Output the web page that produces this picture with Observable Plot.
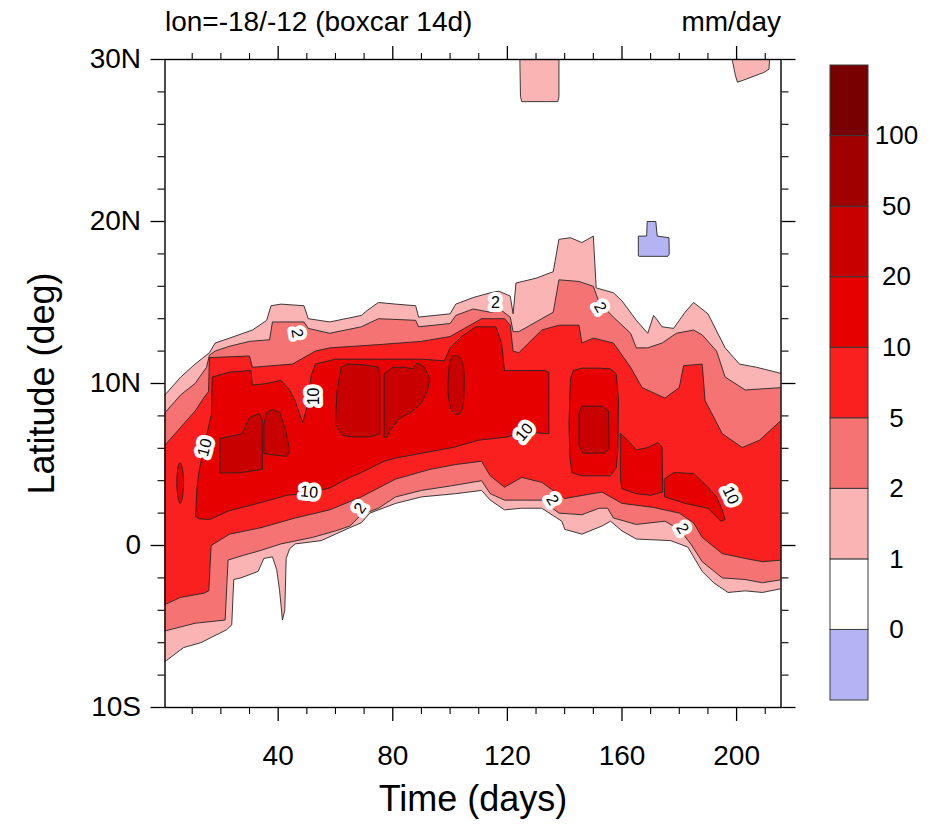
<!DOCTYPE html>
<html><head><meta charset="utf-8">
<script src="https://cdn.jsdelivr.net/npm/d3@7"></script>
<script src="https://cdn.jsdelivr.net/npm/@observablehq/plot@0.6"></script>
<style>
body{margin:0;background:#fff;}
#wrap{position:relative;width:934px;height:826px;overflow:hidden;background:#fff;}
#main,#bar{position:absolute;top:0;}
#main{left:0;} #bar{left:800px;}
</style></head><body><div id="wrap"><div id="main"></div><div id="bar"></div></div>
<script>
// ---- axis ticks ----
const timeTicks = [40, 80, 120, 160, 200];
const timeMinor = [10,20,30,50,60,70,90,100,110,130,140,150,170,180,190,210];
const latTicks = [-10, 0, 10, 20, 30];
const latTickLabels = ["10S", "0", "10N", "20N", "30N"];
const latMinor = [-8,-6,-4,-2,2,4,6,8,12,14,16,18,22,24,26,28];

// ---- colour levels (mm/day) ----
const levelLabels = ["0","1","2","5","10","20","50","100"];
const levelColors = ["#b4b4f5","#ffffff","#fab4b4","#f57373","#fa2020","#e60000","#c80000","#a00000","#780000"];

// ---- contour boundaries: [day, latitude] ----
const ge1Top = [[0,9.2],[1,9.4],[6,10.4],[11,11.2],[16,11.9],[18,12.5],[23,12.8],[31,13.3],[36,13.9],[37.5,14.8],[41,14.9],[49,14.8],[50.5,14.0],[58,13.8],[69,14.2],[71,14.5],[75,15.0],[81,14.9],[88,14.8],[89,14.1],[100,14.3],[102,14.9],[108,15.3],[114,15.6],[117,15.7],[121,15.4],[122,14.3],[123,16.2],[130,16.5],[136,16.9],[138,18.9],[142,19.0],[146,18.7],[148,18.9],[150,19.1],[151,15.9],[157,15.6],[160,15.1],[165,13.9],[169,13.1],[171,14.2],[172,14.0],[174,13.5],[178,13.4],[182,14.4],[185,15.0],[190,14.3],[196,12.2],[201,11.2],[207,11.0],[216,10.6]];
const ge1Bot = [[0,-7.2],[1,-7.1],[7,-6.3],[13,-6.0],[22,-5.2],[23.8,-4.9],[24.5,-2.1],[27,-2.0],[33,-1.6],[35,-0.8],[38,-0.7],[39.5,-1.5],[40.5,-2.8],[41.5,-4.6],[42.3,-4.0],[42.8,-0.8],[44,-0.2],[46,0.1],[55,0.3],[60,0.7],[65,1.1],[69,1.4],[72,2.0],[81,2.6],[90,3.0],[102,3.2],[111,3.4],[114,2.8],[119,2.2],[125,2.3],[132,2.3],[139,1.5],[140,1.0],[146,0.7],[153,1.2],[156,1.5],[160,0.9],[165,0.4],[177,0.3],[183,-0.1],[188,-1.6],[192,-2.3],[197,-2.9],[203,-2.8],[209,-2.9],[216,-2.65]];
const ge1PatchA = [[124.5,30],[138,30],[138,27.7],[137.6,27.4],[125,27.4],[124.6,27.7]];
const ge1PatchB = [[198.6,30],[211.5,30],[211.3,29.4],[209.5,29.2],[208,29.1],[205,28.9],[202,28.7],[200.3,28.6],[199.6,29.0]];

const ge2Top = [[0,8.1],[1,8.3],[6,9.3],[11,10.0],[15,11.0],[16,11.75],[18,12.0],[23,12.3],[30,12.6],[37,12.7],[38,13.8],[49,13.8],[50.5,13.4],[58,13.1],[69,13.5],[75,14.0],[88,13.9],[89,13.5],[100,13.7],[102,14.2],[108,14.6],[114,14.4],[118,14.5],[121,14.1],[122,13.2],[124,13.2],[130,13.8],[136,14.4],[138,16.4],[145,16.3],[150,16.0],[152,15.0],[157,14.1],[163,13.1],[165,12.2],[169,12.2],[174,12.5],[179,13.1],[185,13.3],[188,13.0],[193,12.0],[196,10.4],[203,9.6],[216,9.75]];
const ge2Bot = [[0,-5.3],[1,-5.25],[11,-4.8],[21.5,-4.6],[22.5,-0.9],[28,-0.6],[34,-0.3],[41,0.1],[52,0.5],[60,0.9],[65,1.2],[69,1.9],[75,2.3],[81,3.0],[90,3.4],[101,3.7],[111,4.0],[114,3.2],[119,2.8],[132,2.8],[138,2.0],[146,1.9],[152,2.3],[155,2.3],[157,1.7],[165,1.3],[175,1.5],[180,1.0],[184,0.1],[188,-1.0],[195,-2.0],[203,-2.1],[209,-2.3],[216,-2.1]];

const ge5Top = [[0,6.2],[1,6.3],[6,7.3],[11,8.3],[14,9.1],[15.7,9.5],[16,11.6],[30,11.7],[31,11.0],[45,11.2],[53,12.0],[58,12.2],[75,12.4],[90,12.6],[100,12.9],[105,13.4],[111,14.0],[119,14.0],[121,13.6],[122,12.0],[124,11.9],[132,13.3],[138,13.6],[145,13.6],[146,12.5],[150,12.8],[157,12.5],[163,11.0],[167,9.75],[175,9.1],[180,9.75],[181.5,11.1],[188,11.2],[189,8.95],[195,6.9],[202,6.05],[208,6.5],[216,7.8]];
const ge5Bot = [[0,-3.7],[1,-3.6],[6,-3.2],[14,-2.95],[15.8,-2.8],[16.6,0.0],[23,0.7],[34,1.1],[46,1.7],[58,2.2],[69,3.0],[81,4.1],[93,4.7],[102,5.0],[111,5.2],[114,4.3],[119,3.6],[125,4.2],[132,3.9],[140,2.9],[153,3.3],[160,2.6],[171,2.35],[180,2.0],[185,1.4],[188,0.5],[195,-0.5],[203,-0.8],[209,-1.0],[216,-0.9]];

const ge10Top = [[11.2,1.8],[11.6,3.5],[12.4,4.6],[14.5,6.4],[16.7,8.1],[17,10.4],[23,10.7],[30.5,10.8],[31,9.9],[36,10.0],[41,10.2],[44,9.6],[46,8.9],[48.5,7.6],[50,8.5],[51.5,10.5],[53,11.2],[60,11.5],[75,11.5],[90,11.5],[98,11.4],[100,12.2],[104,12.9],[109,13.5],[116,13.5],[118,12.5],[119,10.8],[126,10.8],[133,10.8],[134.5,10.7]];
const ge10Bot = [[11.2,1.8],[12.4,1.65],[16,1.6],[23,2.15],[34,2.65],[43,3.1],[49,3.2],[58,3.55],[65,4.2],[69,4.5],[77,5.2],[81,5.4],[101,6.05],[110,6.5],[120,6.7],[126,7.0],[134.5,6.9]];
const ge10Small = [[4.6,3.9],[5.0,4.8],[5.8,5.1],[6.6,4.7],[7.0,3.9],[6.6,3.0],[5.8,2.6],[5.0,3.0]];
const ge10Oval = [[141.5,7.5],[142,10.3],[143,10.8],[146,10.95],[152,10.95],[156,10.9],[158,10.6],[158.8,9.0],[158.6,6.0],[158,4.8],[156,4.3],[146,4.3],[142.5,4.5],[141.8,5.5]];
const ge10Block = [[159.5,6.9],[162,6.5],[165,5.9],[169,6.05],[172.5,6.35],[174,6.1],[174.2,3.3],[170,3.1],[165,3.2],[160,3.5],[159.5,4.0]];
const ge10Right = [[174.8,4.1],[178,4.5],[185,4.45],[190,3.6],[193,3.0],[195,2.2],[196,1.6],[194.5,1.5],[190,2.3],[182,2.6],[175,3.0]];

const ge20A = [[19.7,4.5],[19.7,6.6],[27.4,6.9],[30,7.9],[33.3,8.15],[34.4,7.8],[34.5,4.7],[27,4.5]];
const ge20B = [[35,5.7],[35,7.5],[36,8.2],[38,8.4],[40.5,8.2],[42.5,7.2],[44,5.9],[43,5.5],[38,5.6]];
const ge20C = [[60,7.5],[60.5,9.5],[62,11.0],[64,11.2],[70,11.15],[75,11.0],[75.5,10.5],[75.5,6.9],[72,6.7],[66,6.7],[62.5,6.8],[61,7.2]];
const ge20D = [[77,6.7],[77,10.6],[80,11.0],[84,11.0],[87,10.9],[88.5,11.3],[91,11.0],[93,10.3],[92,9.5],[90,8.8],[87,8.3],[82,7.8],[79,7.1],[78,6.7]];
const ge20E = [[99.3,10.0],[99.8,11.2],[101,11.7],[103.5,11.6],[104.8,10.8],[104.8,9.2],[104,8.3],[102,8.1],[100.2,8.5],[99.4,9.3]];
const ge20F = [[145,6.2],[145,8.2],[146,8.6],[153,8.6],[155.3,8.3],[155.5,6.0],[154,5.7],[146.5,5.7]];

const negPatch = [[165.7,17.9],[165.7,19.1],[168.6,19.1],[168.8,20.0],[171.8,20.0],[172.3,19.1],[176.4,19.0],[176.5,18.0],[176,17.85],[166.2,17.85]];

// ---- contour labels ----
const labDay = [46.6, 115.8, 152.4, 68.6, 135.7, 181.1, 52.5, 14.4, 50.8, 125.9, 197.9];
const labLat = [13.1, 15.0, 14.7, 2.3, 2.8, 1.05, 9.2, 6.05, 3.3, 7.0, 3.1];
const labText = ["2","2","2","2","2","2","10","10","10","10","10"];
const labAngle = [80, 0, 60, -55, 60, 60, -90, -75, 5, -50, 65];

// ---- build ----
const band = (top, bot) => [...top, ...bot.slice().reverse()];
const regions = [
  {ring: band(ge1Top, ge1Bot), color: levelColors[2]},
  {ring: ge1PatchA, color: levelColors[2]},
  {ring: ge1PatchB, color: levelColors[2]},
  {ring: band(ge2Top, ge2Bot), color: levelColors[3]},
  {ring: band(ge5Top, ge5Bot), color: levelColors[4]},
  {ring: band(ge10Top, ge10Bot), color: levelColors[5]},
  {ring: ge10Small, color: levelColors[5], curve: "cardinal-closed"},
  {ring: ge10Oval, color: levelColors[5]},
  {ring: ge10Block, color: levelColors[5]},
  {ring: ge10Right, color: levelColors[5]},
  {ring: ge20A, color: levelColors[6]},
  {ring: ge20B, color: levelColors[6]},
  {ring: ge20C, color: levelColors[6]},
  {ring: ge20D, color: levelColors[6]},
  {ring: ge20E, color: levelColors[6], curve: "cardinal-closed"},
  {ring: ge20F, color: levelColors[6]},
  {ring: negPatch, color: levelColors[0]}
];

const font = "'Liberation Sans', Arial, Helvetica, sans-serif";
const fmtLat = v => latTickLabels[latTicks.indexOf(v)];
const blank = () => "";

const main = Plot.plot({
  width: 810, height: 826,
  marginLeft: 164.5, marginRight: 29.5, marginTop: 59, marginBottom: 119,
  x: {domain: [0.5, 215.5]},
  y: {domain: [-10, 30]},
  style: {fontFamily: font, fontSize: "28px", background: "white", color: "black", overflow: "visible"},
  marks: [
    ...regions.map(r => Plot.line(r.ring, {
      x: p => p[0], y: p => p[1], fill: r.color, stroke: "#262626", strokeWidth: 0.9,
      curve: r.curve || "linear-closed", clip: true
    })),
    Plot.text(d3.range(labText.length), {
      x: i => labDay[i], y: i => labLat[i], text: i => labText[i], rotate: i => labAngle[i],
      fontSize: 16, fill: "black", stroke: "white", strokeWidth: 8, strokeLinejoin: "round"
    }),
    Plot.frame({stroke: "black", strokeWidth: 1.4}),
    Plot.axisX({anchor: "bottom", ticks: timeTicks, tickSize: 14, tickPadding: 24, fontSize: 28, label: null, strokeWidth: 1.3}),
    Plot.axisX({anchor: "bottom", ticks: timeMinor, tickSize: 7, tickFormat: blank, label: null, strokeWidth: 1.1}),
    Plot.axisX({anchor: "top", ticks: timeTicks, tickSize: 14, tickFormat: blank, label: null, strokeWidth: 1.3}),
    Plot.axisX({anchor: "top", ticks: timeMinor, tickSize: 7, tickFormat: blank, label: null, strokeWidth: 1.1}),
    Plot.axisY({anchor: "left", ticks: latTicks, tickSize: 14, tickPadding: 10, tickFormat: fmtLat, fontSize: 28, label: null, strokeWidth: 1.3}),
    Plot.axisY({anchor: "left", ticks: latMinor, tickSize: 7, tickFormat: blank, label: null, strokeWidth: 1.1}),
    Plot.axisY({anchor: "right", ticks: latTicks, tickSize: 14, tickFormat: blank, label: null, strokeWidth: 1.3}),
    Plot.axisY({anchor: "right", ticks: latMinor, tickSize: 7, tickFormat: blank, label: null, strokeWidth: 1.1}),
    Plot.text(["lon=-18/-12 (boxcar 14d)"], {frameAnchor: "top-left", textAnchor: "start", lineAnchor: "middle", dy: -37, fontSize: 28}),
    Plot.text(["mm/day"], {frameAnchor: "top-right", textAnchor: "end", lineAnchor: "middle", dy: -37, fontSize: 28}),
    Plot.text(["Time (days)"], {frameAnchor: "bottom", textAnchor: "middle", lineAnchor: "middle", dy: 92, fontSize: 36}),
    Plot.text(["Latitude (deg)"], {frameAnchor: "left", textAnchor: "middle", lineAnchor: "middle", dx: -123, rotate: -90, fontSize: 36})
  ]
});
document.getElementById("main").appendChild(main);

const cbIdx = d3.range(levelColors.length);
const bar = Plot.plot({
  width: 134, height: 826,
  marginTop: 65, marginBottom: 126, marginLeft: 30, marginRight: 66,
  x: {domain: [0, 1], axis: null},
  y: {domain: [0, levelColors.length], axis: null},
  color: {type: "identity"},
  style: {fontFamily: font, fontSize: "26px", background: "transparent", color: "black", overflow: "visible"},
  marks: [
    Plot.rect(cbIdx, {x1: () => 0, x2: () => 1, y1: i => i, y2: i => i + 1, fill: i => levelColors[i], stroke: "#3a3a3a", strokeWidth: 1}),
    Plot.text(d3.range(levelLabels.length), {x: () => 1, y: i => i + 1, text: i => levelLabels[i], dx: 28, fontSize: 26, fill: "black"})
  ]
});
document.getElementById("bar").appendChild(bar);
</script></body></html>
